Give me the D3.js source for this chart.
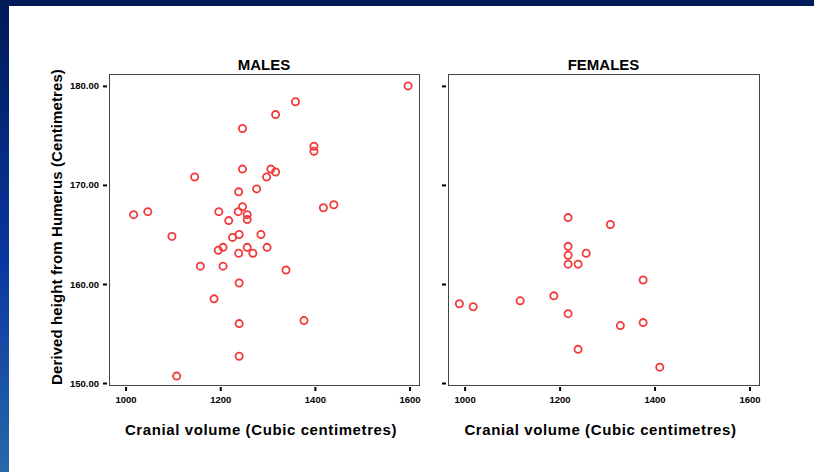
<!DOCTYPE html>
<html lang="en">
<head>
    <script type="text/javascript" src="https://cdn.jsdelivr.net/npm/d3@7/dist/d3.min.js"></script>
    <meta charset="UTF-8">
    <title>Cranial volume vs height</title>
    <style>
        body { margin: 0; background: #fff; }
        svg { display: block; font-family: "Liberation Sans", Arial, sans-serif; }
    </style>
</head>
<body>
<script>
    // values
    var maleVolume = [1597, 1359, 1317, 1247, 1398, 1398, 1247, 1146, 1307, 1317, 1298, 1277, 1239, 1247,
        1238, 1257, 1257, 1218, 1197, 1047, 1017, 1418, 1440, 1098, 1226, 1240, 1286, 1196, 1206, 1257,
        1299, 1239, 1269, 1158, 1206, 1339, 1240, 1187, 1377, 1240, 1240, 1108];
    var maleHeight = [180.0, 178.4, 177.1, 175.7, 173.9, 173.4, 171.6, 170.8, 171.6, 171.3, 170.8, 169.6, 169.3, 167.8,
        167.3, 167.0, 166.5, 166.4, 167.3, 167.3, 167.0, 167.7, 168.0, 164.8, 164.7, 165.0, 165.0, 163.4, 163.7, 163.7,
        163.7, 163.1, 163.1, 161.8, 161.8, 161.4, 160.1, 158.5, 156.3, 156.0, 152.7, 150.7];
    var femaleVolume = [1218, 1307, 1218, 1218, 1256, 1218, 1239, 1376, 989, 1018, 1117, 1188, 1218, 1328, 1376, 1239, 1411];
    var femaleHeight = [166.7, 166.0, 163.8, 162.9, 163.1, 162.0, 162.0, 160.4, 158.0, 157.7, 158.3, 158.8, 157.0, 155.8, 156.1, 153.4, 151.6];

    var panelTitles = ["MALES", "FEMALES"];
    var xTicks = [1000, 1200, 1400, 1600];
    var yTicks = [150, 160, 170, 180];
    var xTitle = "Cranial volume (Cubic centimetres)";
    var yTitle = "Derived height from Humerus (Centimetres)";

    var W = 814, H = 472;
    var svg = d3.select("body").append("svg")
        .attr("width", W)
        .attr("height", H);

    // slide background: blue bar on top and left
    var grad = svg.append("defs").append("linearGradient")
        .attr("id", "side").attr("x1", 0).attr("y1", 0).attr("x2", 0).attr("y2", 1);
    grad.append("stop").attr("offset", 0).attr("stop-color", "#001a57");
    grad.append("stop").attr("offset", 0.55).attr("stop-color", "#0936a0");
    grad.append("stop").attr("offset", 1).attr("stop-color", "#2868aa");

    svg.append("rect").attr("x", 0).attr("y", 0).attr("width", 9).attr("height", H).attr("fill", "url(#side)");
    svg.append("rect").attr("x", 0).attr("y", 0).attr("width", W).attr("height", 6).attr("fill", "#001d5a");

    var plotTop = 74, plotBottom = 385;
    var panels = [
        {left: 109, right: 419, x: maleVolume, y: maleHeight},
        {left: 448, right: 759, x: femaleVolume, y: femaleHeight}
    ];

    var y = d3.scaleLinear()
        .domain([149.8, 181.2])
        .range([plotBottom, plotTop]);

    panels.forEach(function(p, i) {
        var x = d3.scaleLinear()
            .domain([965, 1620])
            .range([p.left, p.right]);

        var g = svg.append("g");

        g.append("rect")
            .attr("x", p.left + 0.5).attr("y", plotTop + 0.5)
            .attr("width", p.right - p.left).attr("height", plotBottom - plotTop)
            .attr("fill", "none")
            .attr("stroke", "#444")
            .attr("stroke-width", 1);

        g.append("text")
            .attr("x", (p.left + p.right) / 2)
            .attr("y", 70)
            .attr("text-anchor", "middle")
            .style("font-size", "15px")
            .style("font-weight", "bold")
            .text(panelTitles[i]);

        // y axis, labels only on the first panel
        var yAxis = d3.axisLeft(y)
            .tickValues(yTicks)
            .tickSize(4)
            .tickPadding(4)
            .tickFormat(i == 0 ? d3.format(".2f") : "");
        var ya = g.append("g")
            .attr("transform", "translate(" + (p.left - 2) + ",0)")
            .call(yAxis);
        ya.select(".domain").remove();
        ya.selectAll("line").attr("stroke", "#000").attr("stroke-width", 2);
        ya.selectAll("text").style("font-size", "9.5px").style("font-weight", "bold").attr("fill", "#000");

        var xAxis = d3.axisBottom(x)
            .tickValues(xTicks)
            .tickSize(4)
            .tickPadding(5)
            .tickFormat(d3.format("d"));
        var xa = g.append("g")
            .attr("transform", "translate(0," + (plotBottom + 2) + ")")
            .call(xAxis);
        xa.select(".domain").remove();
        xa.selectAll("line").attr("stroke", "#000").attr("stroke-width", 2);
        xa.selectAll("text").style("font-size", "9.5px").style("font-weight", "bold").attr("fill", "#000");

        g.append("text")
            .attr("x", (p.left + p.right) / 2 - 3)
            .attr("y", 435)
            .attr("text-anchor", "middle")
            .style("font-size", "15px")
            .style("font-weight", "bold")
            .style("letter-spacing", "0.6px")
            .text(xTitle);

        g.selectAll("circle")
            .data(p.x)
            .enter()
            .append("circle")
            .attr("cx", function(d) { return x(d); })
            .attr("cy", function(d, j) { return y(p.y[j]); })
            .attr("r", 3.6)
            .attr("fill", "none")
            .attr("stroke", "#f23a3a")
            .attr("stroke-width", 1.8);
    });

    svg.append("text")
        .attr("transform", "translate(62,227) rotate(-90)")
        .attr("text-anchor", "middle")
        .style("font-size", "15px")
        .style("font-weight", "bold")
        .style("letter-spacing", "0.1px")
        .text(yTitle);
</script>
</body>
</html>
